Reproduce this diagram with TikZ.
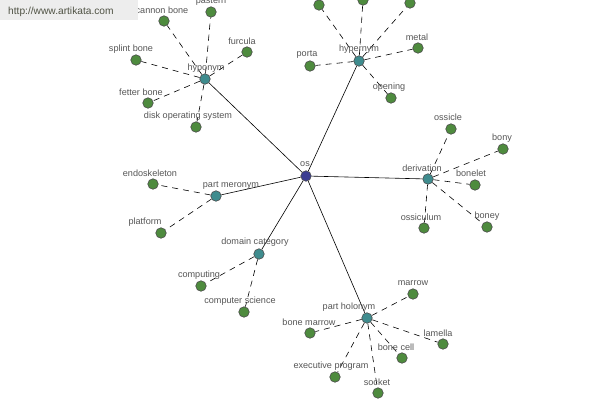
\documentclass[tikz,border=0pt]{standalone}
\usepackage{fontspec}
\setmainfont{Liberation Sans}
\usetikzlibrary{backgrounds}
\definecolor{leafc}{HTML}{4E8B3E}
\definecolor{hubc}{HTML}{3F8C8E}
\definecolor{rootc}{HTML}{3B3D92}
\definecolor{txtc}{HTML}{555555}
\definecolor{wmbox}{HTML}{EDEDED}
\definecolor{wmtxt}{HTML}{4F5243}
\tikzset{
  leaf/.style={circle,draw=black!70,line width=0.6pt,fill=leafc,minimum size=10.5pt,inner sep=0pt},
  hub/.style={circle,draw=black!70,line width=0.6pt,fill=hubc,minimum size=10.5pt,inner sep=0pt},
  root/.style={circle,draw=black!70,line width=0.6pt,fill=rootc,minimum size=10.5pt,inner sep=0pt},
  lbl/.style={inner sep=0pt,text=txtc,font=\fontsize{9.1}{10}\selectfont},
  solidedge/.style={draw=black,line width=0.6pt},
  dashedge/.style={draw=black,line width=0.6pt,dash pattern=on 6pt off 5pt},
}
\begin{document}
\begin{tikzpicture}[x=1pt,y=-1pt]
\useasboundingbox (0,0) rectangle (600,400);
% root
\node[root] (os) at (306,176) {};
% hubs
\node[hub] (hypo) at (205,79) {};
\node[hub] (hyper) at (359,61) {};
\node[hub] (deriv) at (428,179) {};
\node[hub] (mero) at (216,196) {};
\node[hub] (dom) at (259,254) {};
\node[hub] (holo) at (367,318) {};
% hyponym leaves
\node[leaf] (cannon) at (164,21) {};
\node[leaf] (pastern) at (211,12) {};
\node[leaf] (furcula) at (247,52) {};
\node[leaf] (splint) at (136,60) {};
\node[leaf] (fetter) at (148,103) {};
\node[leaf] (dos) at (196,127) {};
% hypernym leaves
\node[leaf] (hA) at (319,5) {};
\node[leaf] (hB) at (363,0) {};
\node[leaf] (hC) at (410,3) {};
\node[leaf] (porta) at (310,66) {};
\node[leaf] (metal) at (418,48) {};
\node[leaf] (opening) at (391,98) {};
% derivation leaves
\node[leaf] (ossicle) at (451,129) {};
\node[leaf] (bony) at (503,149) {};
\node[leaf] (bonelet) at (475,185) {};
\node[leaf] (boney) at (487,227) {};
\node[leaf] (ossiculum) at (424,228) {};
% meronym leaves
\node[leaf] (endo) at (153,184) {};
\node[leaf] (platform) at (161,233) {};
% domain leaves
\node[leaf] (computing) at (201,286) {};
\node[leaf] (compsci) at (244,312) {};
% holonym leaves
\node[leaf] (marrow) at (413,294) {};
\node[leaf] (bmarrow) at (310,333) {};
\node[leaf] (lamella) at (443,344) {};
\node[leaf] (bcell) at (402,358) {};
\node[leaf] (exec) at (335,377) {};
\node[leaf] (socket) at (378,393) {};
% edges
\begin{pgfonlayer}{background}
\foreach \h in {hypo,hyper,deriv,mero,dom,holo} \draw[solidedge] (os) -- (\h);
\foreach \l in {cannon,pastern,furcula,splint,fetter,dos} \draw[dashedge] (hypo) -- (\l);
\foreach \l in {hA,hB,hC,porta,metal,opening} \draw[dashedge] (hyper) -- (\l);
\foreach \l in {ossicle,bony,bonelet,boney,ossiculum} \draw[dashedge] (deriv) -- (\l);
\foreach \l in {endo,platform} \draw[dashedge] (mero) -- (\l);
\foreach \l in {computing,compsci} \draw[dashedge] (dom) -- (\l);
\foreach \l in {marrow,bmarrow,lamella,bcell,exec,socket} \draw[dashedge] (holo) -- (\l);
\end{pgfonlayer}
% labels
\node[lbl] (osL) at (305,164) {os};
\node[lbl] (hypoL) at (206,68) {hyponym};
\node[lbl] (hyperL) at (359,49) {hypernym};
\node[lbl] (derivL) at (422,168) {derivation};
\node[lbl] (meroL) at (231,185) {part meronym};
\node[lbl] (domL) at (255,242) {domain category};
\node[lbl] (holoL) at (349,307) {part holonym};
\node[lbl] (cannonL) at (162,10) {cannon bone};
\node[lbl] (pasternL) at (211,1) {pastern};
\node[lbl] (furculaL) at (242,41) {furcula};
\node[lbl] (splintL) at (131,49) {splint bone};
\node[lbl] (fetterL) at (141,92) {fetter bone};
\node[lbl] (dosL) at (188,116) {disk operating system};
\node[lbl] (portaL) at (307,54) {porta};
\node[lbl] (metalL) at (417,37) {metal};
\node[lbl] (openingL) at (389,87) {opening};
\node[lbl] (ossicleL) at (448,117) {ossicle};
\node[lbl] (bonyL) at (502,138) {bony};
\node[lbl] (boneletL) at (471,173) {bonelet};
\node[lbl] (boneyL) at (487,216) {boney};
\node[lbl] (ossiculumL) at (421,217) {ossiculum};
\node[lbl] (endoL) at (150,173) {endoskeleton};
\node[lbl] (platformL) at (145,222) {platform};
\node[lbl] (computingL) at (199,275) {computing};
\node[lbl] (compsciL) at (240,301) {computer science};
\node[lbl] (marrowL) at (413,283) {marrow};
\node[lbl] (bmarrowL) at (309,322) {bone marrow};
\node[lbl] (lamellaL) at (438,333) {lamella};
\node[lbl] (bcellL) at (396,347) {bone cell};
\node[lbl] (execL) at (331,366) {executive program};
\node[lbl] (socketL) at (377,382) {socket};
% watermark
\fill[wmbox] (0,0) rectangle (138,20);
\node[inner sep=0pt,text=wmtxt,font=\fontsize{10.2}{11}\selectfont,anchor=west] (wm) at (8,12) {http://www.artikata.com};
\end{tikzpicture}
\end{document}
